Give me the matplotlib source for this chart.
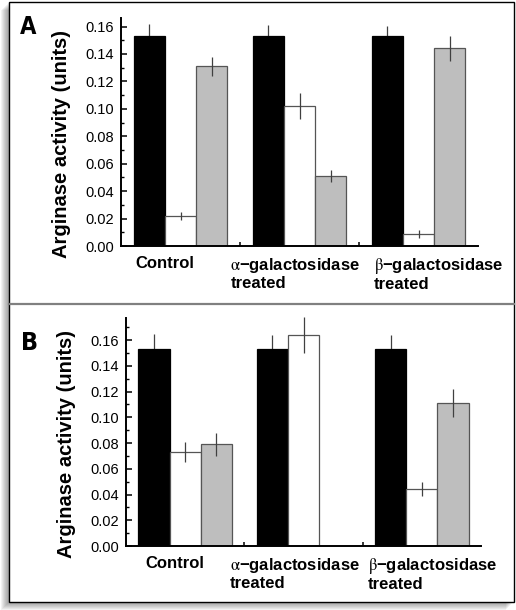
import matplotlib
matplotlib.use('Agg')
import matplotlib.pyplot as plt
from matplotlib.patches import Rectangle
from matplotlib.lines import Line2D
from matplotlib.ticker import MultipleLocator

plt.rcParams.update({'font.family': 'Liberation Sans', 'mathtext.fontset': 'stix'})

W, H = 516, 610

groups = ['Control', r'$\mathrm{\alpha}$−galactosidase' + '\ntreated',
          r'$\mathrm{\beta}$−galactosidase' + '\ntreated']

# Panel A
a_black = [0.153, 0.153, 0.153]
a_black_err = [0.009, 0.008, 0.0075]
a_white = [0.022, 0.102, 0.0085]
a_white_err = [0.003, 0.0095, 0.003]
a_gray = [0.131, 0.051, 0.144]
a_gray_err = [0.007, 0.0044, 0.009]

# Panel B
b_black = [0.153, 0.153, 0.153]
b_black_err = [0.0115, 0.011, 0.011]
b_white = [0.073, 0.164, 0.044]
b_white_err = [0.0075, 0.014, 0.0055]
b_gray = [0.079, 0.0, 0.111]
b_gray_err = [0.009, 0.0, 0.011]

BAR_W = 0.263
GRAY = '#bebebe'
EDGE = '#555555'
ERR = '#404040'


def px_rect(left, top, right, bottom):
    """Pixel box (top-origin) -> figure fraction [l, b, w, h]."""
    return [left / W, (H - bottom) / H, (right - left) / W, (bottom - top) / H]


def draw_panel(ax, series, ymax, label_x):
    x = list(range(len(groups)))
    styles = [('black', 'black'), ('white', EDGE), (GRAY, EDGE)]
    for k, (vals, errs) in enumerate(series):
        fc, ec = styles[k]
        pos = [i + (k - 1) * BAR_W for i in x]
        ax.bar(pos, vals, width=BAR_W, color=fc, edgecolor=ec, linewidth=0.9, zorder=2)
        keep = [j for j in range(len(vals)) if vals[j] > 0]
        # black bars hide the lower half of their error line
        ax.errorbar([pos[j] for j in keep], [vals[j] for j in keep],
                    yerr=[errs[j] for j in keep], fmt='none', ecolor=ERR,
                    elinewidth=0.9, capsize=0, zorder=1.5 if k == 0 else 3,
                    clip_on=False)

    ax.set_xlim(-0.5, 2.5)
    ax.set_ylim(0, ymax)
    ax.set_facecolor('none')
    for s in ('top', 'right'):
        ax.spines[s].set_visible(False)
    for s in ('left', 'bottom'):
        ax.spines[s].set_linewidth(1.4)
    ax.yaxis.set_major_locator(MultipleLocator(0.02))
    ax.yaxis.set_minor_locator(MultipleLocator(0.01))
    ax.yaxis.set_major_formatter(plt.FormatStrFormatter('%.2f'))
    ax.set_xticks([0, 0.5, 1, 1.5, 2])
    ax.set_xticklabels([])
    ax.tick_params(axis='y', which='major', direction='in', length=4, width=1.1,
                   labelsize=10.5, pad=5)
    ax.tick_params(axis='y', which='minor', direction='in', length=2.5, width=1.0)
    ax.tick_params(axis='x', which='major', direction='in', length=3, width=1.1)

    ax.set_ylabel('Arginase activity (units)', fontsize=14.5, fontweight='bold')
    ax.yaxis.set_label_coords(-0.14, 0.448)

    trans = ax.get_xaxis_transform()
    for gx, name in zip(label_x, groups):
        ax.text(gx, -0.042, name, transform=trans, ha='left', va='top',
                fontsize=12, fontweight='bold', linespacing=1.15)


fig = plt.figure(figsize=(W / 100, H / 100), dpi=100)
fig.patch.set_facecolor('white')

# drop shadow + frame
for d in range(1, 9):
    fig.patches.append(Rectangle(((9 - d) / W, (8 - d) / H), 505 / W, 600 / H,
                                 transform=fig.transFigure, facecolor='#000000',
                                 alpha=0.05, edgecolor='none', zorder=-3))
fig.patches.append(Rectangle((9 / W, 8 / H), 505 / W, 600 / H, transform=fig.transFigure,
                             facecolor='white', edgecolor='black', linewidth=1.0, zorder=-2))
fig.lines.append(Line2D([9 / W, 514 / W], [(H - 304) / H] * 2, transform=fig.transFigure,
                        color='#808080', linewidth=1.6, zorder=-1))

ax_a = fig.add_axes(px_rect(121, 18.3, 478, 246))
draw_panel(ax_a, [(a_black, a_black_err), (a_white, a_white_err), (a_gray, a_gray_err)],
           0.166, [-0.378, 0.42, 1.622])

ax_b = fig.add_axes(px_rect(126, 318.3, 481, 546))
draw_panel(ax_b, [(b_black, b_black_err), (b_white, b_white_err), (b_gray, b_gray_err)],
           0.177, [-0.336, 0.375, 1.545])

# condensed panel letters
fig.text(20 / W, (H - 34.3) / H, 'A', family='DejaVu Sans', fontstretch='condensed',
         fontsize=17, fontweight='bold', ha='left', va='baseline')
fig.text(21 / W, (H - 350) / H, 'B', family='DejaVu Sans', fontstretch='condensed',
         fontsize=18, fontweight='bold', ha='left', va='baseline')

fig.savefig('out.png', dpi=100)
